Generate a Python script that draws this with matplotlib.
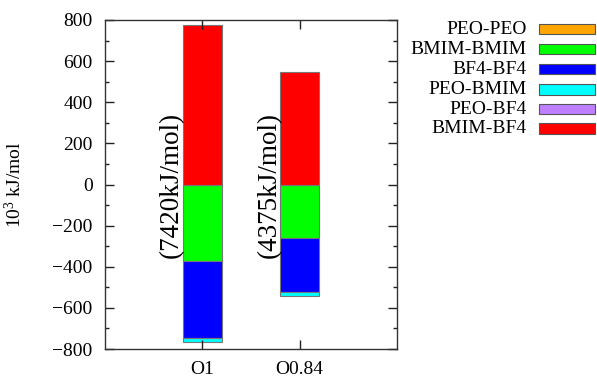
import numpy as np
import matplotlib.pyplot as plt
from matplotlib.patches import Rectangle

# =========================================================
# Data (10^3 kJ/mol)
# =========================================================
systems = ["O1", "O0.84"]
series = ["PEO-PEO", "BMIM-BMIM", "BF4-BF4", "PEO-BMIM", "PEO-BF4", "BMIM-BF4"]
colors = ["#ffa500", "#00ff00", "#0000ff", "#00ffff", "#bf80ff", "#ff0000"]

peo_peo   = [0, 0]
bmim_bmim = [-370, -262]
bf4_bf4   = [-378, -263]
peo_bmim  = [-17, -16]
peo_bf4   = [0, 0]
bmim_bf4  = [776, 549]

totals = ["(7420kJ/mol)", "(4375kJ/mol)"]

values = [peo_peo, bmim_bmim, bf4_bf4, peo_bmim, peo_bf4, bmim_bf4]

# =========================================================
# Style
# =========================================================
plt.rcParams['font.family'] = ['Liberation Serif', 'DejaVu Serif']
plt.rcParams['mathtext.fontset'] = 'custom'
plt.rcParams['mathtext.rm'] = 'Liberation Serif'
plt.rcParams['mathtext.it'] = 'Liberation Serif:italic'

fig = plt.figure(figsize=(5.97, 3.77), dpi=100)
ax = fig.add_axes([105/597, 1 - 349/377, 292/597, 329/377])

x = np.arange(len(systems))
pos_base = np.zeros(len(systems))
neg_base = np.zeros(len(systems))

# rowstacked: positives go up, negatives go down
for name, vals, c in zip(series, values, colors):
    vals = np.array(vals, dtype=float)
    base = np.where(vals >= 0, pos_base, neg_base)
    ax.bar(x, vals, width=0.4, bottom=base, color=c,
           edgecolor="#777777", linewidth=0.8, label=name)
    pos_base = pos_base + np.where(vals > 0, vals, 0)
    neg_base = neg_base + np.where(vals < 0, vals, 0)

# total energy labels
for xi, t in zip(x, totals):
    ax.text(xi - 0.315, 0, t, rotation=90, ha="center", va="center",
            fontsize=19.5)

# =========================================================
# Axes formatting
# =========================================================
ax.set_xlim(-1, 2)
ax.set_ylim(-800, 800)
ax.set_xticks(x)
ax.set_xticklabels(systems)
ax.set_yticks(np.arange(-800, 801, 200))
ax.set_yticks(np.arange(-700, 800, 200), minor=True)
ax.tick_params(axis="both", which="major", direction="in", length=6.5,
               width=1, labelsize=14, top=True, right=True, color="#222222")
ax.tick_params(axis="y", which="major", pad=9)
ax.tick_params(axis="x", which="major", pad=9)
ax.tick_params(axis="y", which="minor", direction="in", length=3,
               width=1, right=True, color="#222222")
for s in ax.spines.values():
    s.set_linewidth(1.0)
    s.set_color("#333333")

ax.set_ylabel(r"10$^{3}$ kJ/mol", fontsize=14)
ax.yaxis.set_label_coords(-0.275, 0.5)

# =========================================================
# Legend (gnuplot style: label right-aligned, sample on right)
# =========================================================
row_y = [29.3, 49.3, 69.3, 89.5, 109.3, 128.5]
for name, c, yy in zip(series, colors, row_y):
    fig.text(527/597, 1 - yy/377, name, ha="right", va="center", fontsize=14)
    fig.add_artist(Rectangle((539/597, 1 - (yy + 5)/377), 56/597, 10/377,
                             transform=fig.transFigure, facecolor=c,
                             edgecolor="#555555", linewidth=0.8))

plt.savefig("out.png", dpi=100)
plt.close()
